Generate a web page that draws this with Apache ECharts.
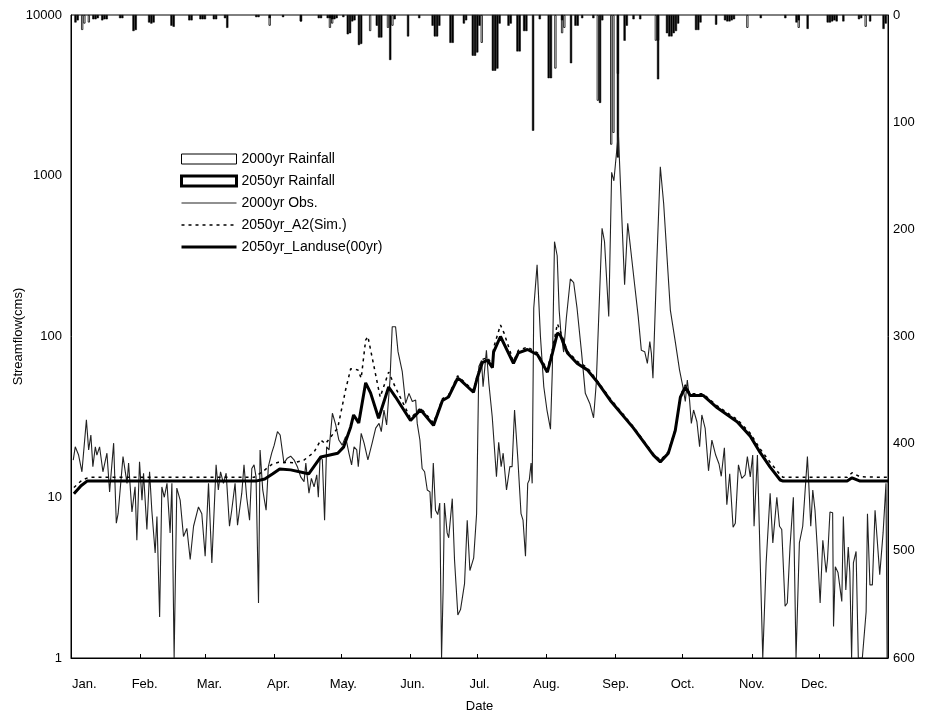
<!DOCTYPE html>
<html><head><meta charset="utf-8">
<script src="https://cdn.jsdelivr.net/npm/echarts@6/dist/echarts.min.js"></script>
<style>html,body{margin:0;padding:0;background:#fff}#c{width:944px;height:718px}</style>
</head><body><div id="c"></div>
<script>
// ---- axes / labels ----
const monthNames = ['Jan.','Feb.','Mar.','Apr.','May.','Jun.','Jul.','Aug.','Sep.','Oct.','Nov.','Dec.'];
const monthLabelDays = [6,33,62,93,122,153,183,213,244,274,305,333];
const monthStartDays = [31,60,91,121,152,182,213,244,274,305,335];
const flowTicks = [1,10,100,1000,10000];
const rainTicks = [0,100,200,300,400,500,600];

// ---- 2000yr observed streamflow (day of year, cms) ----
const obsDays = [1,1.9,3.4,4.9,6.9,7.9,8.9,9.8,10.9,11.6,12.8,14.3,16.1,17.3,19.1,20.3,21.1,23.3,25.1,25.8,27.3,28.7,29.5,30.7,31.8,32.5,34,35.2,36.2,37.7,38.5,39.7,40.7,41.8,43,44.4,45.2,46.2,47.4,48.9,50.4,51.9,53.4,54.9,57.1,58.6,60.1,61.6,63.1,65,66,67,68.3,69.5,71,72,73.5,74.6,76.5,77.5,78.7,80,81,82,82.9,84,84.7,85.9,87.4,88.4,89.9,91,92.5,93.7,95.4,96.9,98.4,99.9,101.4,102.9,104.4,105.2,106.6,107.7,108.9,110.1,110.8,111.6,112.6,113.6,114.5,115.6,117.1,118.6,120,121.5,123,124.5,125.7,126.8,128,128.7,130,131.3,133,134.9,136.5,138,139,140.2,141.4,142,142.9,143.9,145.4,146.5,148.4,149.9,151.4,152.9,154.4,155.1,156.3,157.3,158.4,159.6,160.8,161.4,162.3,163.3,164.3,165.2,166,166.7,167.3,168.5,169.2,170.8,171.8,173.3,174.5,176.3,177.5,178.7,180.4,181.7,182.7,183.9,184.6,186.1,187.2,188.7,190.6,191.6,192.7,193.6,195.1,196.6,197.6,198.7,200.2,201.6,202.5,203.6,204.6,205.3,206.1,206.6,207.3,208.8,210.3,211.8,213.2,214.8,215.6,216.6,217.8,218.7,219.5,220.7,221.9,223.7,225.2,226.7,228.7,230.4,232.5,234.1,235.3,236,237.9,239,240.9,242.2,243.2,245.2,248,249.4,250.6,252.6,254.1,255.5,257,258.2,259.3,260,260.7,262.4,264,265.5,268.5,270.7,272.6,274.1,275.2,276.1,277.1,277.9,278.9,280.4,281.6,282.6,284.1,285.6,287.1,288.8,290.3,291.3,292.7,293.8,295.1,296.6,297.6,299,300.5,302,303,304.3,305.4,306,307.5,309.9,311.4,313.2,314.4,316.2,317.4,318.4,319.9,320.9,322.1,323.6,324.8,326.3,327.8,329.9,330.5,331.4,332.3,333.3,334.3,335.6,336.8,338.3,338.9,340,341.2,341.6,342.4,343.6,345.3,346,347.1,348.2,348.9,349.7,350.5,351.7,352.7,354.5,356.2,356.8,357.9,359,360.2,361,362.3,363.8,365.1,365.6];
const obsFlow = [17,20.6,18.3,14.4,30.3,19.7,24.4,15.5,20.6,18.3,20.6,14.4,18.8,10.8,21.7,6.9,7.9,17.9,12.2,16.3,8.1,11.6,5.4,16.6,9.6,14.1,6.3,14.4,8.3,4.5,7.6,1.8,11.6,10,12.2,6,12.2,1,11.4,9.6,5.7,6.4,4.1,6.6,8.7,7.9,4.3,12.2,3.9,15.9,11.1,14.4,12.2,14.1,6.6,8.3,12.2,6.7,10.6,15.9,10,7.2,15.1,15.9,13.4,2.2,19.7,11.1,8.3,15.5,18.8,21,25.6,24.4,16.3,17.5,18,17.1,15.5,13.4,12.5,16.3,10.6,13.1,11.6,13.8,10,17.9,17.1,7.2,20.6,19.7,33.3,28.2,22.7,21.1,23.8,18.8,15.9,20.6,19.7,15.5,25,21.7,17.1,21.7,26.9,28.8,25.6,34.9,28.2,36.6,53.6,115,115,80.5,60.4,38.4,44.3,39.4,40.3,28.8,22.7,15.1,14.4,11.1,10.8,7.4,16.3,8.3,7.8,9.2,1,2.65,9.2,6,5.6,9.8,4.1,1.85,2,2.9,7.2,3.5,4.2,7.9,65,71,48.7,82,51,31.7,13.4,22,15.5,18.8,11.1,15.5,15.5,34.9,17.1,7.9,7.2,4.3,12.2,12.8,16.3,12.2,150,279,100,48.7,35,26.5,60,389,318,145,104,80,130,228,216,150,80,44.3,38,31.2,51,52,471,390,133,1050,930,1837,210,506,362,204,133,82,80.5,68,93,78.5,55,283,1138,672,146,93,62,48.7,39.4,53.6,40.3,28.8,34.9,29.5,20.6,32.5,26.8,14.6,22.7,18.3,16.1,13.5,20.3,9,14,6.5,6.9,15.9,13.1,13.8,17.9,13.4,18.3,6.6,18.3,1,3.9,10.6,5.2,10,6.6,6.3,2.1,2.2,4.9,10,1,5.2,6.6,17.9,12.2,6.6,11.1,8.3,4.9,2.2,5.4,3.4,4.1,8.1,8,1.57,3.7,3.4,2.25,7.6,2.65,4.9,3.4,1,3.9,4.6,1,1,1.94,7.9,2.85,2.85,8.3,8.3,3.3,6,12.2,1];

// ---- 2050yr A2 simulated streamflow ----
const simDays = [1.3,5,8,82,86,90,93,100,104.3,108.8,111.9,114,119.5,123,125.3,128.5,130,132,133,135,138.5,142.3,145.4,152.1,156.6,162.4,166.4,169.1,173.2,180.3,182.1,184.3,186.6,188.8,189.3,192.4,194,198.2,200.4,204.5,209,213.4,215.7,217.9,219.2,222.4,226.8,231.3,235.8,241.6,251.9,260.9,264,267.6,270.7,273,275.2,277.4,283.2,289.5,298.4,304.3,308.7,313.2,317.7,319,347.7,349.9,353.5,366];
const simFlow = [11.5,12.8,13.3,13.3,14.5,16,16.5,16.4,17,19,22.7,21.5,27,46.5,63,62,55,95,100,73,42,60,48,31,36,29,41,43,57,46,58,72,74,66,85,118,105,70,82,86,79,62,84,120,108,81,70,64,53,41,27.5,18.6,17,19.2,26.5,43,50,44,44,37,30.5,25,20,16.5,13.8,13.3,13.3,14.2,13.4,13.3];

// ---- 2050yr landuse (00yr) streamflow ----
const landDays = [1.3,4.5,7.2,82.8,86.8,90.4,93.5,98.4,104.3,106.5,111.9,119.5,122.1,125.3,126.6,128.9,132,134.2,137.8,142.3,145.4,152.1,156.6,162.4,166.4,169.1,173.2,174.5,180.3,182.1,184.3,186.6,188.8,189.3,192.4,198.2,200.4,204.5,209,213.4,215.7,217.9,219.2,222.4,226.8,231.3,235.8,241.6,251.9,260.9,264,267.6,270.7,273,275.2,277.4,283.2,289.5,298.4,304.3,308.7,313.2,317.7,319,347.7,349.9,353.5,366];
const landFlow = [10.5,11.8,12.6,12.6,13,14,15,14.8,14.2,14,17.8,18.8,20.5,27.4,32.5,29,51.5,44.6,31,48.5,42,30,35,28,40,42,55,53.6,45,56,69,71,64,80,100,68,79,83,77,60,79,105,102,79,68,62,52,40,27,18.3,16.6,18.8,26,42,48.5,43,43,36,29.5,24,19,15.4,12.8,12.6,12.6,13.2,12.6,12.6];

// ---- rainfall (day of year, mm) ----
const rain2000Days = [5,6,8,89,103,116,117,134,142,144,184,217,220,221,236,242,243,245,262,263,303,326,356];
const rain2000 = [14,8,7,10,6,12,8,15,12,10,26,50,17,12,80,121,110,55,24,24,12,12,11];
const rain2050Days = [2,3,10,11,12,14,15,16,22,23,28,29,35,36,37,45,46,53,54,58,59,60,64,65,69,70,83,84,89,95,103,111,112,115,116,117,118,119,122,124,125,126,127,129,130,137,138,139,143,145,151,156,162,163,164,165,170,171,176,177,180,181,182,183,189,190,191,192,196,197,200,201,203,204,207,210,214,215,220,224,226,227,229,234,237,238,245,248,249,252,255,263,267,268,269,270,271,272,280,281,282,289,293,294,295,296,297,309,320,325,326,330,339,340,341,342,343,346,353,354,358,364,365];
const rain2050 = [7,5,4,4,3,5,4,4,3,3,15,14,7,8,7,10,11,5,5,4,4,4,4,4,3,12,2,2,3,2,6,3,3,3,3,4,4,3,2,18,17,6,5,28,27,10,21,21,42,4,20,3,10,20,20,10,26,26,8,5,38,38,35,10,52,52,50,8,10,8,34,34,15,15,108,4,59,59,5,45,10,10,3,3,82,5,133,24,10,4,4,60,17,20,20,17,15,8,14,14,7,9,5,6,6,5,4,3,3,7,5,13,7,7,6,5,6,6,4,3,6,13,8];

const pair = (xs, ys) => xs.map((x, i) => [x, ys[i]]);
const FONT = 'Liberation Sans';
const hideDot = {opacity: 0};

const chart = echarts.init(document.getElementById('c'), null, {renderer: 'canvas'});
chart.setOption({
  backgroundColor: '#fff',
  animation: false,
  textStyle: {fontFamily: FONT, color: '#000'},
  grid: {left: 71, right: 56, top: 15, bottom: 60, containLabel: false, outerBoundsMode: 'none',
         show: true, borderColor: '#000', borderWidth: 1, backgroundColor: 'transparent'},
  legend: {
    orient: 'vertical', left: 175, top: 147, itemWidth: 55, itemHeight: 10, itemGap: 8,
    textStyle: {fontFamily: FONT, fontSize: 14, color: '#000'},
    selectedMode: false,
    data: [
      {name: '2000yr Rainfall', icon: 'rect', itemStyle: {color: '#fff', borderColor: '#000', borderWidth: 1}},
      {name: '2050yr Rainfall', icon: 'rect', itemStyle: {color: '#fff', borderColor: '#000', borderWidth: 3}},
      {name: '2000yr Obs.', itemStyle: hideDot, lineStyle: {width: 1.2}},
      {name: '2050yr_A2(Sim.)', itemStyle: hideDot, lineStyle: {width: 1.5}},
      {name: '2050yr_Landuse(00yr)', itemStyle: hideDot, lineStyle: {width: 3}}
    ]
  },
  xAxis: {
    type: 'value', min: 0, max: 366,
    name: 'Date', nameLocation: 'middle', nameGap: 42, nameMoveOverlap: false,
    nameTextStyle: {fontFamily: FONT, fontSize: 13, color: '#000'},
    axisLine: {onZero: false, lineStyle: {color: '#000', width: 1}},
    axisTick: {show: true, inside: true, length: 4, customValues: monthStartDays, lineStyle: {color: '#000'}},
    axisLabel: {margin: 20, fontSize: 13, color: '#000', customValues: monthLabelDays,
      formatter: v => { const i = monthLabelDays.indexOf(Math.round(v)); return i >= 0 ? monthNames[i] : ''; }},
    splitLine: {show: false}
  },
  yAxis: [
    {
      type: 'log', logBase: 10, min: flowTicks[0], max: flowTicks[flowTicks.length - 1], splitNumber: 4,
      name: 'Streamflow(cms)', nameLocation: 'middle', nameGap: 46, nameRotate: 90, nameMoveOverlap: false,
      nameTextStyle: {fontFamily: FONT, fontSize: 13, color: '#000'},
      axisLine: {show: true, onZero: false, lineStyle: {color: '#000'}},
      axisTick: {show: false},
      axisLabel: {fontSize: 13, color: '#000', margin: 9, formatter: v => String(Math.round(v))},
      splitLine: {show: false}, minorTick: {show: false}
    },
    {
      type: 'value', min: rainTicks[0], max: rainTicks[rainTicks.length - 1], interval: 100, inverse: true,
      position: 'right',
      axisLine: {show: true, onZero: false, lineStyle: {color: '#000'}},
      axisTick: {show: false},
      axisLabel: {fontSize: 13, color: '#000', margin: 5},
      splitLine: {show: false}
    }
  ],
  series: [
    {name: '2000yr Rainfall', type: 'bar', yAxisIndex: 1, barWidth: 2.2, barGap: '-100%',
     itemStyle: {color: '#fff', borderColor: '#000', borderWidth: 0.8}, data: pair(rain2000Days, rain2000)},
    {name: '2050yr Rainfall', type: 'bar', yAxisIndex: 1, barWidth: 2.2, barGap: '-100%',
     itemStyle: {color: '#000', borderColor: '#000', borderWidth: 0.5}, data: pair(rain2050Days, rain2050)},
    {name: '2000yr Obs.', type: 'line', yAxisIndex: 0, symbol: 'none', z: 3,
     lineStyle: {color: '#222', width: 1.1}, itemStyle: {color: '#222'}, data: pair(obsDays, obsFlow)},
    {name: '2050yr_A2(Sim.)', type: 'line', yAxisIndex: 0, symbol: 'none', z: 4,
     lineStyle: {color: '#000', width: 1.5, type: [3, 4]}, itemStyle: {color: '#000'}, data: pair(simDays, simFlow)},
    {name: '2050yr_Landuse(00yr)', type: 'line', yAxisIndex: 0, symbol: 'none', z: 5,
     lineStyle: {color: '#000', width: 3}, itemStyle: {color: '#000'}, data: pair(landDays, landFlow)}
  ]
});
</script>
</body></html>
